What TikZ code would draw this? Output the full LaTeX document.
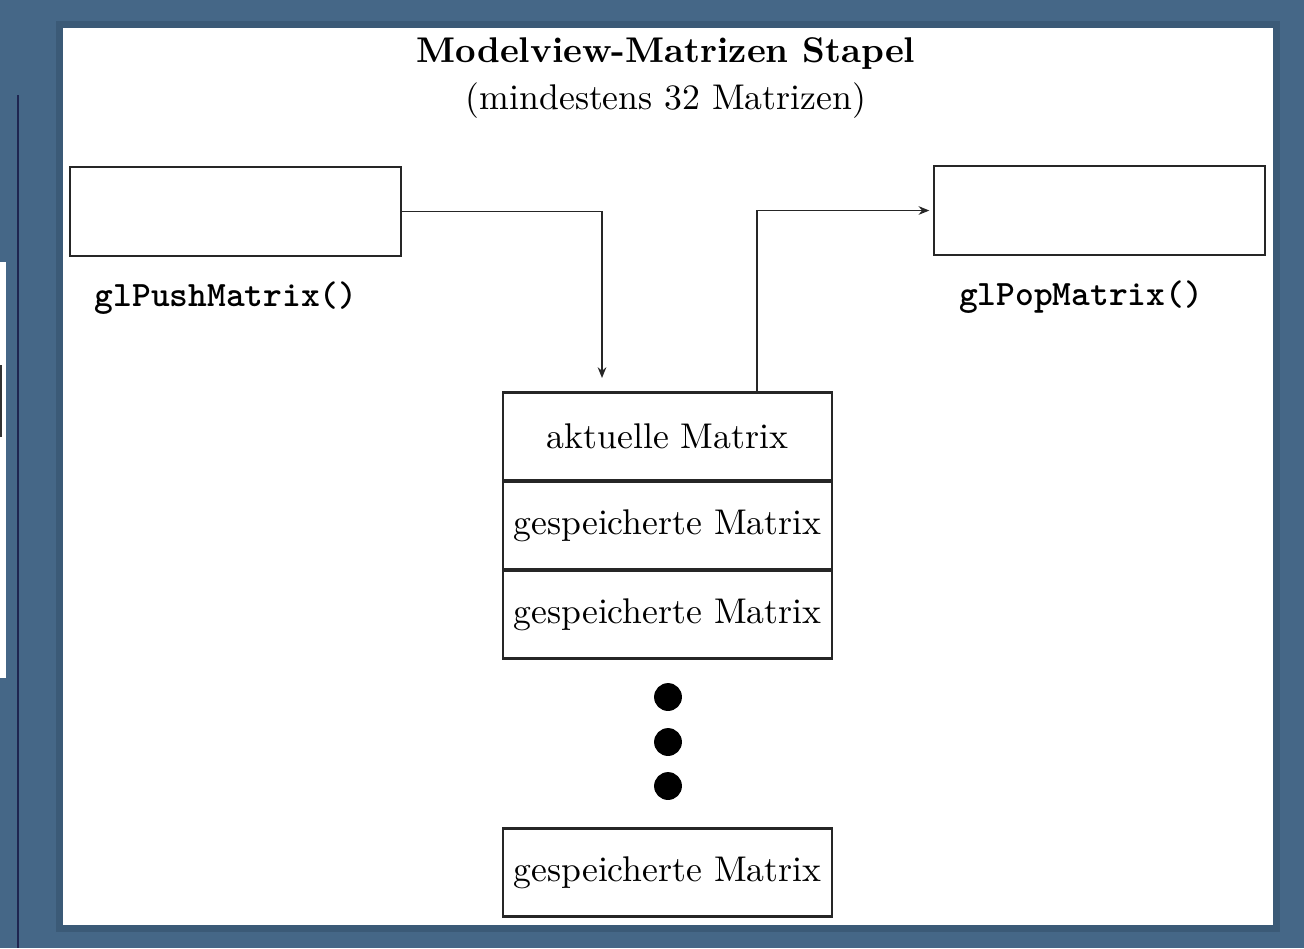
\documentclass[tikz,border=0pt]{standalone}
\usepackage{fontspec}
\usetikzlibrary{arrows.meta,positioning,calc}
\definecolor{slideblue}{HTML}{456787}
\definecolor{slidedark}{HTML}{3B5A77}
\definecolor{slideline}{HTML}{1E2550}

\begin{document}
\begin{tikzpicture}[
  x=0.28pt, y=-0.28pt,
  frame/.style={draw=black!85, line width=0.7pt, fill=white,
                minimum width=92.6pt, minimum height=24.9pt, inner sep=0pt},
  stackbox/.style={draw=black!85, line width=0.7pt, fill=white,
                   minimum width=92.1pt, minimum height=24.6pt, inner sep=0pt,
                   outer sep=0.15pt},
  fname/.style={font=\ttfamily\bfseries},
  stackdot/.style={circle, fill=black, minimum size=7.8pt, inner sep=0pt},
  arrow/.style={-{Stealth[length=3pt,width=2.4pt]}, line width=0.55pt, black!85},
]

%% ---- slide background and paper ----
\useasboundingbox (0,0) rectangle (1304,948);
\fill[slideblue] (0,0) rectangle (1304,948);
\fill[slidedark] (56,21) rectangle (1280,932);
\fill[white] (63,28) rectangle (1273,925);
\fill[white] (0,262) rectangle (6,678);
\fill[black!80] (0,365) rectangle (2,437);
\draw[slideline, line width=0.6pt] (18,95) -- (18,948);

%% ---- title ----
\node[align=center] (title) at (666,78)
  {\bfseries Modelview-Matrizen Stapel\\[1pt](mindestens 32 Matrizen)};

%% ---- push / pop boxes ----
\node[frame] (push) at (235.5,211.5) {};
\node[frame] (pop)  at (1099.5,210.5) {};
\node[fname] (pushlbl) at (226,298) {glPushMatrix()};
\node[fname] (poplbl)  at (1081,297) {glPopMatrix()};

%% ---- the stack ----
\node[stackbox] (akt) at (667.5,436.5) {aktuelle Matrix};
\node[stackbox, below=0pt of akt]  (gsp1) {gespeicherte Matrix};
\node[stackbox, below=0pt of gsp1] (gsp2) {gespeicherte Matrix};
\node[stackdot] (d1) at (668,697) {};
\node[stackdot] (d2) at (668,742) {};
\node[stackdot] (d3) at (668,786) {};
\node[stackbox] (gspn) at (667.5,872.5) {gespeicherte Matrix};

%% ---- connectors ----
\coordinate (pushend) at (602,378);
\draw[arrow] (push.east) -| (pushend);
\draw[arrow, shorten >=1pt] ($(akt.north)+(89.5,0)$) |- (pop.west);

\end{tikzpicture}
\end{document}
